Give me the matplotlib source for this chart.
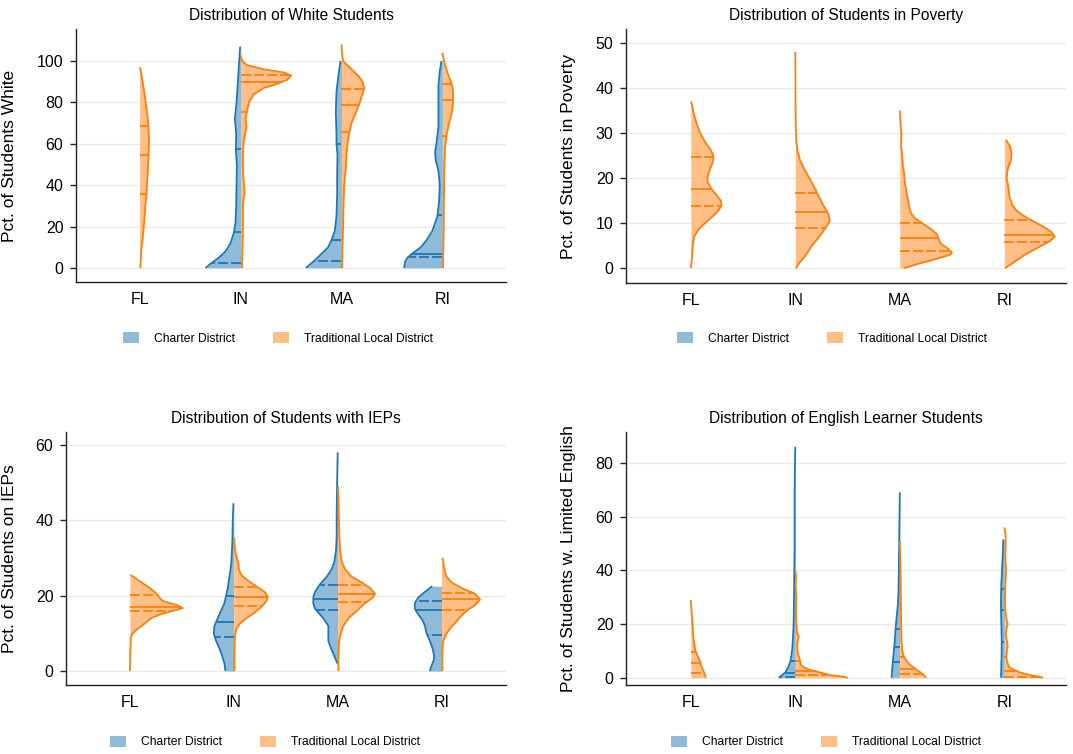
import matplotlib
matplotlib.use("Agg")
import matplotlib.pyplot as plt
from matplotlib.patches import Patch
import numpy as np

plt.rcParams['font.family'] = ['Liberation Sans', 'DejaVu Sans']

STATES = ["FL", "IN", "MA", "RI"]
GROUP_LABELS = ["Charter District", "Traditional Local District"]

# ---- Panel 1: Pct. White.  Profiles are (value, relative density width) pairs
WHITE_CHARTER = {
    "IN": [(0, 105), (2, 90), (5, 65), (8, 45), (12, 30), (17, 20), (22, 15), (30, 13), (40, 12),
           (50, 11), (57, 14), (65, 13), (72, 17), (80, 12), (90, 8), (100, 4), (107, 1)],
    "MA": [(0, 107), (3, 85), (6, 65), (10, 40), (13.5, 30), (18, 20), (25, 15), (35, 13), (45, 13),
           (55, 12), (60, 15), (65, 15), (75, 17), (85, 15), (92, 10), (100, 3)],
    "RI": [(0, 115), (3, 112), (5, 105), (7, 90), (10, 65), (14, 45), (18, 30), (25, 15), (32, 10),
           (40, 8), (47, 12), (52, 20), (56, 22), (60, 18), (68, 12), (78, 12), (88, 12), (95, 8), (100, 3)],
}
WHITE_TRAD = {
    "FL": [(0, 2), (5, 4), (10, 6), (17, 11), (25, 15), (35, 20), (45, 24), (55, 27), (62, 28), (70, 26),
           (78, 20), (85, 14), (90, 9), (95, 4), (97, 0)],
    "IN": [(0, 4), (10, 6), (20, 7), (30, 7), (37, 12), (45, 8), (55, 7), (62, 10), (68, 18), (72, 15),
           (76, 20), (80, 25), (84, 40), (87, 70), (89, 110), (91, 140), (93, 152), (94.5, 130), (96, 70),
           (98, 20), (100, 5), (103, 0)],
    "MA": [(0, 2), (10, 3), (20, 5), (30, 6), (40, 8), (48, 13), (55, 15), (60, 18), (65, 23), (70, 30),
           (75, 43), (80, 55), (85, 65), (87, 68), (90, 63), (93, 50), (96, 30), (100, 5), (104, 1), (108, 0)],
    "RI": [(0, 2), (10, 3), (20, 4), (30, 4), (40, 5), (50, 6), (58, 8), (64, 12), (70, 20), (75, 28),
           (80, 32), (85, 32), (89, 28), (93, 18), (97, 10), (100, 5), (104, 0)],
}
WHITE_CHARTER_Q = {"IN": [2.4, 17.2, 57.6], "MA": [3.2, 13.5, 60.0], "RI": [5.3, 6.9, 25.7]}
WHITE_TRAD_Q = {"FL": [35.9, 54.7, 68.6], "IN": [75.6, 90.0, 93.2], "MA": [65.8, 78.8, 86.5],
                "RI": [64.0, 81.2, 88.7]}

# ---- Panel 2: Pct. in Poverty
POV_CHARTER = {}
POV_TRAD = {
    "FL": [(0, 0), (2, 3), (5, 6), (7, 10), (8, 18), (9, 28), (10, 43), (11, 58), (12, 73), (13, 85),
           (14, 93), (15, 90), (16, 80), (17.5, 63), (19, 51), (20, 50), (21, 53), (23, 63), (24, 68),
           (25, 68), (26.5, 58), (28, 43), (30, 28), (32, 18), (34, 10), (36, 4), (37, 1)],
    "IN": [(0, 2), (1, 10), (2, 22), (3.5, 37), (5, 50), (7, 72), (9, 92), (10.5, 104), (12, 100),
           (14, 84), (16, 70), (18, 57), (20, 42), (22, 27), (24, 14), (26, 7), (28, 3), (32, 1),
           (40, 0.5), (48, 0)],
    "MA": [(0, 12), (1, 57), (2, 107), (3, 152), (3.5, 157), (4.5, 142), (5.5, 122), (6.5, 117),
           (7.5, 112), (8.5, 97), (9.5, 77), (11, 47), (12, 35), (13, 30), (15, 25), (17, 20), (19, 15),
           (21, 13), (23, 9), (25, 7), (27, 4), (30, 5), (32, 2), (35, 0)],
    "RI": [(0, 2), (1, 22), (2, 42), (3, 62), (4, 87), (5, 112), (6, 137), (7, 152), (8, 142), (9, 122),
           (10, 97), (11, 72), (12, 50), (13, 34), (14, 24), (16, 15), (18, 12), (20, 7), (22, 10),
           (24, 20), (25.5, 22), (27, 17), (28.5, 5)],
}
POV_CHARTER_Q = {}
POV_TRAD_Q = {"FL": [13.9, 17.5, 24.6], "IN": [9.0, 12.4, 16.6], "MA": [3.9, 6.8, 10.0],
              "RI": [5.8, 7.4, 10.6]}

# ---- Panel 3: Pct. on IEPs
IEP_CHARTER = {
    "IN": [(0, 25), (2, 28), (4, 35), (6, 43), (8, 53), (10, 60), (12, 58), (14, 48), (16, 38), (18, 28),
           (20, 23), (22, 18), (25, 13), (28, 8), (31, 6), (35, 4), (40, 3), (44.5, 1)],
    "MA": [(2, 1), (4, 10), (6, 20), (8, 28), (10, 28), (12, 28), (14, 43), (15, 53), (16.5, 68), (18, 73),
           (19.5, 73), (21, 68), (23, 53), (25, 33), (27, 18), (29, 10), (32, 5), (36, 3), (42, 3),
           (48, 2), (54, 1), (58, 0)],
    "RI": [(0, 35), (1, 32), (3, 23), (4, 22), (6, 27), (8, 35), (10, 45), (12, 50), (13.5, 57), (15, 70),
           (16.5, 80), (18, 80), (19.5, 70), (21, 50), (22.5, 28)],
}
IEP_TRAD = {
    "FL": [(0, 0), (5, 1), (9, 3), (10, 8), (11, 20), (12, 35), (13, 50), (14, 62), (15, 90), (16, 130),
           (16.7, 158), (17.5, 140), (18.5, 100), (19.5, 88), (20.5, 80), (22, 60), (23.5, 35), (25, 10),
           (25.5, 2)],
    "IN": [(0, 2), (5, 2), (9, 3), (11, 7), (12.5, 17), (14, 37), (15.5, 62), (17, 82), (18.5, 97),
           (19.7, 102), (21, 92), (22.5, 67), (24, 42), (25.5, 22), (27, 15), (28.5, 14), (30, 9), (32, 4),
           (35.5, 0)],
    "MA": [(0, 2), (4, 2), (8, 4), (10, 9), (12, 17), (14, 32), (16, 57), (18, 82), (19.5, 105), (20.5, 112),
           (22, 97), (23.5, 72), (25, 42), (27, 22), (29, 12), (32, 7), (36, 5), (42, 3), (49, 1)],
    "RI": [(0, 2), (5, 2), (8, 5), (10, 15), (11.5, 27), (13, 43), (14.5, 57), (16, 75), (17.5, 100),
           (19, 115), (20.5, 100), (22, 60), (23.5, 30), (25, 15), (27, 8), (29, 5), (30, 2)],
}
IEP_CHARTER_Q = {"IN": [9.0, 13.1, 20.0], "MA": [16.3, 19.1, 22.9], "RI": [9.6, 16.2, 18.5]}
IEP_TRAD_Q = {"FL": [15.9, 17.1, 20.3], "IN": [17.3, 19.7, 22.3], "MA": [18.3, 20.5, 22.9],
              "RI": [16.2, 19.1, 20.6]}

# ---- Panel 4: Pct. Limited English
ELL_CHARTER = {
    "IN": [(0, 50), (1, 40), (2, 30), (4, 21), (6, 15), (8, 12), (11, 9), (15, 7), (20, 5), (30, 4),
           (40, 3), (50, 2), (60, 2), (70, 2), (80, 1), (86, 0)],
    "MA": [(0, 25), (3, 23), (6, 21), (10, 18), (14, 15), (18, 13), (22, 10), (27, 6), (32, 4), (40, 3),
           (50, 2), (60, 1), (69, 0)],
    "RI": [(0, 10), (5, 9), (10, 8), (15, 8), (20, 9), (25, 10), (30, 10), (35, 9), (40, 7), (45, 5),
           (51.5, 3)],
}
ELL_TRAD = {
    "FL": [(0, 45), (1, 43), (2.5, 38), (4, 33), (6, 28), (8, 21), (10, 14), (12, 11), (15, 8), (20, 5),
           (25, 2), (29, 0)],
    "IN": [(0, 158), (0.5, 138), (1, 103), (2, 73), (3, 43), (4, 23), (5, 16), (7, 13), (9, 8), (12, 5),
           (14, 8), (15.5, 10), (17, 5), (20, 3), (25, 2), (30, 3), (34, 1), (38, 2), (40, 0)],
    "MA": [(0, 80), (1, 72), (2, 62), (3, 50), (4, 39), (5, 29), (6.5, 19), (8, 12), (10, 7), (14, 5),
           (20, 4), (30, 3), (40, 2), (51, 0)],
    "RI": [(0, 117), (0.5, 102), (1, 77), (2, 47), (3, 27), (4, 14), (6, 8), (8, 6), (10, 8), (12, 10),
           (14, 7), (16, 4), (18, 6), (20, 10), (22, 6), (25, 3), (30, 2), (35, 3), (40, 5), (45, 3),
           (50, 4), (53, 4), (56, 0)],
}
ELL_CHARTER_Q = {"IN": [0.4, 1.9, 6.4], "MA": [5.9, 11.3, 18.2], "RI": [13.4, 25.4, 32.9]}
ELL_TRAD_Q = {"FL": [1.8, 5.5, 9.6], "IN": [1.1, 2.4, 6.4], "MA": [1.5, 3.4, 7.8], "RI": [0.1, 2.5, 7.6]}

TITLES = ["Distribution of White Students", "Distribution of Students in Poverty",
          "Distribution of Students with IEPs", "Distribution of English Learner Students"]
YLABELS = ["Pct. of Students White", "Pct. of Students in Poverty", "Pct. of Students on IEPs",
           "Pct. of Students w. Limited English"]
YTICKS = [[0, 20, 40, 60, 80, 100], [0, 10, 20, 30, 40, 50], [0, 20, 40, 60], [0, 20, 40, 60, 80]]

# ---------------- styling / layout ----------------
W, H = 1073, 754
BLUE, ORANGE = "#1f77b4", "#ff7f0e"
BLUE_FILL, ORANGE_FILL = "#8fbbd9", "#ffbf86"
LW = 1.3

# axes rectangles in pixels: left, right, top, bottom
RECTS = [(76, 506, 29, 282), (626, 1066, 29, 283), (66, 506, 432, 685), (626, 1066, 432, 685)]
YLIMS = [(-6.8, 115.5), (-3.3, 53.1), (-3.7, 63.4), (-2.7, 91.5)]
XLIMS = [(0.37, 4.63), (0.38, 4.59), (0.385, 4.62), (0.38, 4.59)]
WSCALE = [303, 315, 311, 315]
YLABEL_X = [17, 576, 17, 576]
LEGEND_POS = [(278, 338.5), (832, 338.5), (265, 742), (826, 742)]

fig = plt.figure(figsize=(W / 100, H / 100), dpi=100)

PANELS = [
    (WHITE_CHARTER, WHITE_CHARTER_Q, WHITE_TRAD, WHITE_TRAD_Q),
    (POV_CHARTER, POV_CHARTER_Q, POV_TRAD, POV_TRAD_Q),
    (IEP_CHARTER, IEP_CHARTER_Q, IEP_TRAD, IEP_TRAD_Q),
    (ELL_CHARTER, ELL_CHARTER_Q, ELL_TRAD, ELL_TRAD_Q),
]


def half_violin(ax, pos, prof, quart, side, line_c, fill_c, scale):
    y = np.array([p[0] for p in prof], dtype=float)
    w = np.array([p[1] for p in prof], dtype=float) / scale
    x = pos + side * w
    ax.fill_betweenx(y, pos, x, color=fill_c, lw=0, zorder=2)
    ax.plot(x, y, color=line_c, lw=LW, zorder=3, solid_capstyle='butt')
    for k, q in enumerate(quart):
        wq = np.interp(q, y, w)
        if k == 1:
            ax.plot([pos, pos + side * wq], [q, q], color=line_c, lw=LW, zorder=4,
                    solid_capstyle='butt')
        else:
            ax.plot([pos, pos + side * wq], [q, q], color=line_c, lw=LW, zorder=4,
                    dashes=(5.5, 1.7), dash_capstyle='butt')


for i, (l, r, t, b) in enumerate(RECTS):
    ax = fig.add_axes([l / W, 1 - b / H, (r - l) / W, (b - t) / H])
    charter, charter_q, trad, trad_q = PANELS[i]
    for j, st in enumerate(STATES):
        pos = j + 1
        if st in charter:
            half_violin(ax, pos, charter[st], charter_q[st], -1, BLUE, BLUE_FILL, WSCALE[i])
        if st in trad:
            half_violin(ax, pos, trad[st], trad_q[st], 1, ORANGE, ORANGE_FILL, WSCALE[i])
    ax.set_xlim(*XLIMS[i])
    ax.set_ylim(*YLIMS[i])
    ax.set_xticks(range(1, len(STATES) + 1))
    ax.set_xticklabels(STATES)
    ax.set_yticks(YTICKS[i])
    for yt in YTICKS[i]:
        ax.axhline(yt, color="#e9e9e9", lw=0.9, zorder=0)
    for s in ["top", "right"]:
        ax.spines[s].set_visible(False)
    for s in ["left", "bottom"]:
        ax.spines[s].set_color("#222222")
        ax.spines[s].set_linewidth(1.0)
    ax.tick_params(axis='x', length=0, pad=7, labelsize=11.5)
    ax.tick_params(axis='y', length=4, width=1.0, color="#222222", pad=5, labelsize=11.5)
    ax.set_ylabel(YLABELS[i], fontsize=12.5)
    ax.yaxis.set_label_coords((YLABEL_X[i] - l) / (r - l), 0.5)
    ax.text(0.5, 1 + 13.5 / (b - t), TITLES[i], transform=ax.transAxes, ha='center', va='center',
            fontsize=11.2)
    cx, cy = LEGEND_POS[i]
    handles = [Patch(facecolor=BLUE_FILL, edgecolor='none', label=GROUP_LABELS[0]),
               Patch(facecolor=ORANGE_FILL, edgecolor='none', label=GROUP_LABELS[1])]
    fig.legend(handles=handles, loc='center', bbox_to_anchor=(cx / W, 1 - cy / H), ncol=2,
               frameon=False, fontsize=8.7, handlelength=1.3, handleheight=1.0,
               handletextpad=1.2, columnspacing=3.2, borderpad=0, borderaxespad=0)

fig.savefig("out.png", dpi=100)
